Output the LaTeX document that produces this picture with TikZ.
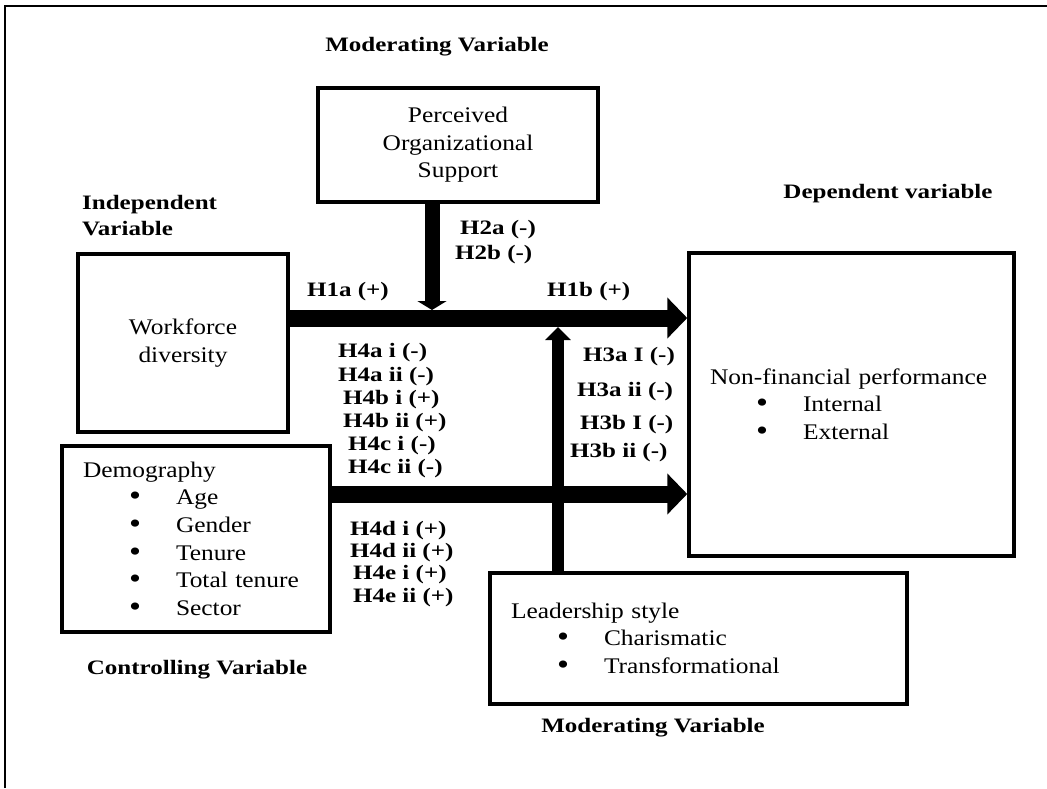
\documentclass[tikz,border=0pt]{standalone}
\usepackage{fontspec}
\setmainfont{Liberation Serif}[FakeStretch=1.14]
\newfontfamily\hfont{Liberation Serif}[FakeStretch=1.22]
\usetikzlibrary{arrows.meta}
\newcommand\bul[1]{\\\hspace*{46pt}\makebox[47pt][l]{\raisebox{-1pt}{\fontsize{30}{0}\selectfont\textbullet}}#1}

\begin{document}
\begin{tikzpicture}[x=1pt,y=-1pt,font=\fontsize{22.3}{27.6}\selectfont,
  box/.style={draw,line width=3.5pt,inner sep=0pt,align=center},
  lbox/.style={draw,line width=3.5pt,inner xsep=21pt,inner ysep=0pt,align=left},
  hd/.style={font=\hfont\bfseries\fontsize{20.5}{26}\selectfont,inner sep=0pt,align=left},
  hyp/.style={hd,anchor=west},
  bar/.style={line width=17pt,-{Triangle[length=20pt,width=40pt]}},
  downbar/.style={line width=15pt,-{Triangle[length=9pt,width=29pt]}},
  upbar/.style={line width=12pt,-{Triangle[length=13pt,width=25pt]}}]
  \useasboundingbox (0,0) rectangle (1047,788);
  \draw[line width=2.5pt] (5,788) -- (5,6) -- (1047,6);
  % boxes
  \node[box,minimum width=280pt,minimum height=114pt] (pos) at (458,145) {Perceived\\Organizational\\Support};
  \node[box,minimum width=210pt,minimum height=178pt] (wf) at (183,343) {Workforce\\diversity};
  \node[lbox,text width=226pt,minimum height=186pt] (demo) at (196,539)
    {Demography\bul{Age}\bul{Gender}\bul{Tenure}\bul{Total tenure}\bul{Sector}};
  \node[lbox,text width=375pt,minimum height=131pt] (lead) at (698.5,638.5)
    {Leadership style\bul{Charismatic}\bul{Transformational}};
  \node[lbox,text width=283pt,minimum height=303pt] (nf) at (851.5,404.5)
    {Non-financial performance\bul{Internal}\bul{External}};
  % headings
  \node[hd] (modtop) at (437,47) {Moderating Variable};
  \node[hd,anchor=west] (indep) at (82,216) {Independent\\Variable};
  \node[hd] (dep) at (888,194) {Dependent variable};
  \node[hd] (ctrl) at (197,670) {Controlling Variable};
  \node[hd] (modbot) at (653,728) {Moderating Variable};
  % arrows
  \coordinate (t1) at (0,318);
  \coordinate (t2) at (0,494);
  \coordinate (jd) at (432,310);
  \coordinate (ju) at (558,327);
  \draw[bar] (wf.east |- t1) -- (nf.west |- t1);
  \draw[bar] (demo.east |- t2) -- (nf.west |- t2);
  \draw[downbar] (pos.south -| jd) -- (jd);
  \draw[upbar] (lead.north -| ju) -- (ju);
  % hypotheses
  \node[hyp] (h1a) at (307,292) {H1a (+)};
  \node[hyp] (h1b) at (547,292) {H1b (+)};
  \node[hyp] (h2a) at (460,230) {H2a (-)};
  \node[hyp] (h2b) at (455,255) {H2b (-)};
  \node[hyp] (h3ai) at (583,357) {H3a I (-)};
  \node[hyp] (h3aii) at (577,392) {H3a ii (-)};
  \node[hyp] (h3bi) at (580,425) {H3b I (-)};
  \node[hyp] (h3bii) at (570,453) {H3b ii (-)};
  \node[hyp] (h4ai) at (338,353) {H4a i (-)};
  \node[hyp] (h4aii) at (338,377) {H4a ii (-)};
  \node[hyp] (h4bi) at (343,400) {H4b i (+)};
  \node[hyp] (h4bii) at (343,423) {H4b ii (+)};
  \node[hyp] (h4ci) at (348,446) {H4c i (-)};
  \node[hyp] (h4cii) at (348,469) {H4c ii (-)};
  \node[hyp] (h4di) at (350,531) {H4d i (+)};
  \node[hyp] (h4dii) at (350,553) {H4d ii (+)};
  \node[hyp] (h4ei) at (353,575) {H4e i (+)};
  \node[hyp] (h4eii) at (353,598) {H4e ii (+)};
\end{tikzpicture}
\end{document}
